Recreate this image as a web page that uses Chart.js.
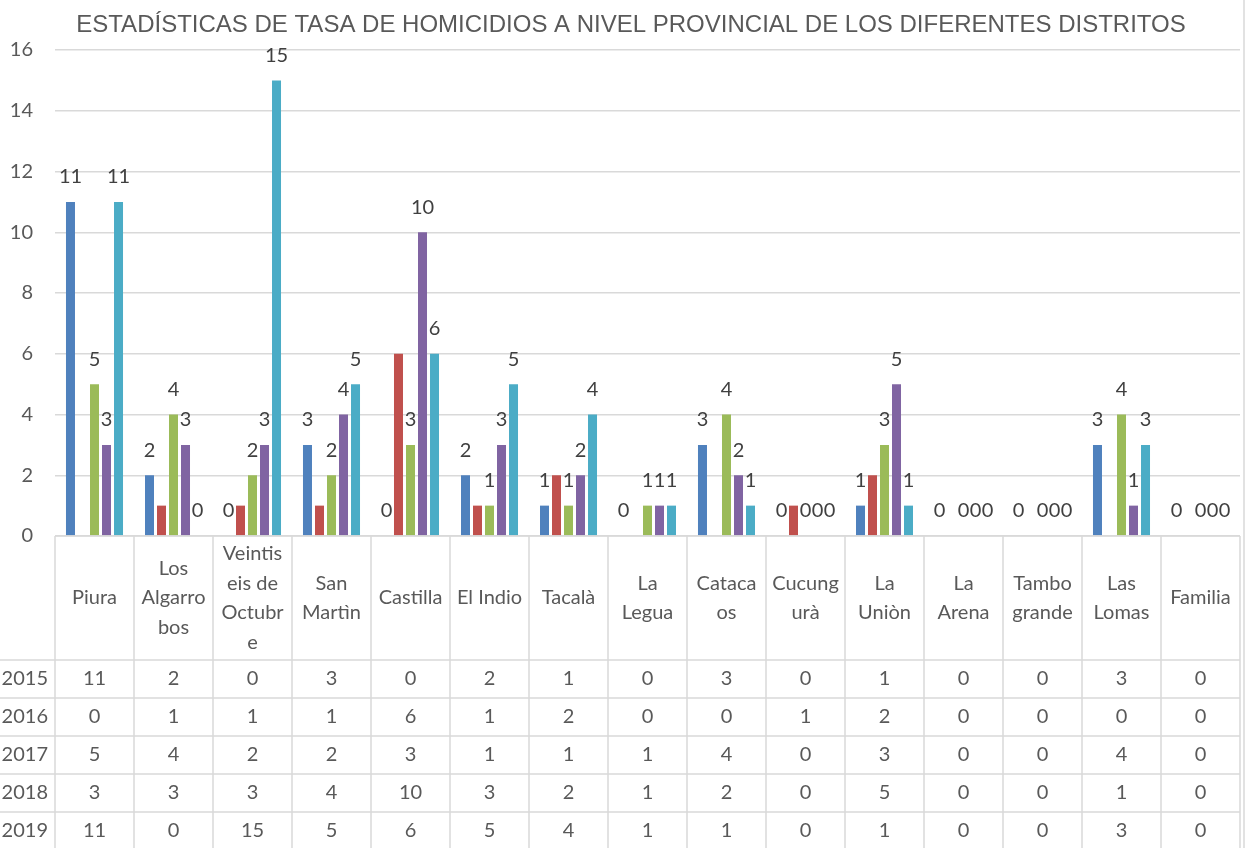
<!DOCTYPE html>
<html lang="es">
<head>
    <meta charset="UTF-8">
    <title>Tasa de homicidios por distrito</title>
    <script src="https://cdn.jsdelivr.net/npm/chart.js"></script>
    <style>
        body {
            margin: 0;
            background: #fff;
        }
        canvas {
            display: block;
        }
    </style>
</head>
<body>
    <canvas id="homicidios" width="1251" height="848"></canvas>

    <script>
        // distritos (cortados en líneas como en la tabla de datos)
        const distritos = [
            ['Piura'], ['Los', 'Algarro', 'bos'], ['Veintis', 'eis de', 'Octubr', 'e'],
            ['San', 'Martìn'], ['Castilla'], ['El Indio'], ['Tacalà'], ['La', 'Legua'],
            ['Cataca', 'os'], ['Cucung', 'urà'], ['La', 'Uniòn'], ['La', 'Arena'],
            ['Tambo', 'grande'], ['Las', 'Lomas'], ['Familia']
        ];
        const anios = ['2015', '2016', '2017', '2018', '2019'];

        const v2015 = [11, 2, 0, 3, 0, 2, 1, 0, 3, 0, 1, 0, 0, 3, 0];
        const v2016 = [0, 1, 1, 1, 6, 1, 2, 0, 0, 1, 2, 0, 0, 0, 0];
        const v2017 = [5, 4, 2, 2, 3, 1, 1, 1, 4, 0, 3, 0, 0, 4, 0];
        const v2018 = [3, 3, 3, 4, 10, 3, 2, 1, 2, 0, 5, 0, 0, 1, 0];
        const v2019 = [11, 0, 15, 5, 6, 5, 4, 1, 1, 0, 1, 0, 0, 3, 0];

        const yTicks = [0, 2, 4, 6, 8, 10, 12, 14, 16];

        const titulo = 'ESTADÍSTICAS DE TASA DE HOMICIDIOS A NIVEL PROVINCIAL DE LOS DIFERENTES DISTRITOS';

        const colores = ['#4F81BD', '#C0504D', '#9BBB59', '#8064A2', '#4BACC6'];
        const series = [v2015, v2016, v2017, v2018, v2019];
        // la serie 2016 no lleva etiquetas en el original
        const conEtiqueta = [true, false, true, true, true];

        const fuente = 'Lato, "Open Sans", sans-serif';
        const gris = '#595959';

        // etiquetas de valor encima de cada barra
        const etiquetas = {
            id: 'etiquetas',
            afterDatasetsDraw(chart) {
                const ctx = chart.ctx;
                ctx.save();
                ctx.font = '20px ' + fuente;
                ctx.fillStyle = '#404040';
                ctx.textAlign = 'center';
                ctx.textBaseline = 'middle';
                chart.data.datasets.forEach((ds, i) => {
                    if (!conEtiqueta[i]) return;
                    chart.getDatasetMeta(i).data.forEach((bar, j) => {
                        ctx.fillText(String(ds.data[j]), bar.x, bar.y - 25);
                    });
                });
                ctx.restore();
            }
        };

        // tabla de datos bajo el gráfico (como en Excel) + título
        const tabla = {
            id: 'tabla',
            afterDraw(chart) {
                const ctx = chart.ctx;
                const x = chart.scales.x;
                const n = distritos.length;
                const izq = x.left, der = x.right;
                const ancho = (der - izq) / n;
                const arriba = chart.chartArea.bottom;
                const altoCab = 124, altoFila = 38;
                const abajo = chart.height;

                ctx.save();
                ctx.fillStyle = gris;
                ctx.font = '24px "Liberation Sans", Arial, sans-serif';
                ctx.textAlign = 'center';
                ctx.textBaseline = 'middle';
                ctx.fillText(titulo, 631, 25);

                ctx.strokeStyle = '#D9D9D9';
                ctx.lineWidth = 1.5;

                ctx.beginPath();
                ctx.moveTo(izq, arriba);
                ctx.lineTo(der, arriba);
                for (let r = 0; r < anios.length; r++) {
                    const yy = arriba + altoCab + r * altoFila;
                    ctx.moveTo(0, yy);
                    ctx.lineTo(der, yy);
                }
                for (let c = 0; c <= n; c++) {
                    const xx = izq + c * ancho;
                    ctx.moveTo(xx, arriba);
                    ctx.lineTo(xx, abajo);
                }
                // borde del área del gráfico
                ctx.moveTo(1244, 0);
                ctx.lineTo(1244, abajo);
                ctx.stroke();

                ctx.font = '20px ' + fuente;
                ctx.fillStyle = gris;

                const interlinea = 29.5;
                distritos.forEach((lineas, c) => {
                    const cx = x.getPixelForValue(c);
                    const cy = arriba + altoCab / 2 - (lineas.length - 1) * interlinea / 2;
                    lineas.forEach((t, k) => ctx.fillText(t, cx, cy + k * interlinea));
                });

                series.forEach((vals, r) => {
                    const cy = arriba + altoCab + r * altoFila + altoFila / 2;
                    ctx.textAlign = 'right';
                    ctx.fillText(anios[r], 48, cy);
                    ctx.textAlign = 'center';
                    vals.forEach((v, c) => ctx.fillText(String(v), x.getPixelForValue(c), cy));
                });
                ctx.restore();
            }
        };

        const fondo = {
            id: 'fondo',
            beforeDraw(chart) {
                const ctx = chart.ctx;
                ctx.save();
                ctx.fillStyle = '#fff';
                ctx.fillRect(0, 0, chart.width, chart.height);
                ctx.restore();
            }
        };

        new Chart(document.getElementById('homicidios'), {
            type: 'bar',
            data: {
                labels: distritos.map(l => l.join(' ')),
                datasets: anios.map((a, i) => ({
                    label: a,
                    data: series[i],
                    backgroundColor: colores[i],
                    categoryPercentage: 0.76,
                    barPercentage: 0.75
                }))
            },
            options: {
                responsive: false,
                animation: false,
                layout: {
                    padding: { left: 0, right: 11, top: 50, bottom: 312 }
                },
                plugins: {
                    legend: { display: false },
                    tooltip: { enabled: false },
                    title: { display: false }
                },
                scales: {
                    x: {
                        ticks: { display: false },
                        grid: { display: false },
                        border: { display: false },
                        afterFit(s) { s.height = 0; }
                    },
                    y: {
                        min: 0,
                        max: 16,
                        afterBuildTicks(s) { s.ticks = yTicks.map(v => ({ value: v })); },
                        ticks: {
                            color: gris,
                            font: { family: fuente, size: 20 },
                            padding: 22
                        },
                        grid: { color: '#D9D9D9', lineWidth: 1.5, drawTicks: false },
                        border: { display: false },
                        afterFit(s) { s.width = 55; }
                    }
                }
            },
            plugins: [fondo, etiquetas, tabla]
        });
    </script>
</body>
</html>
